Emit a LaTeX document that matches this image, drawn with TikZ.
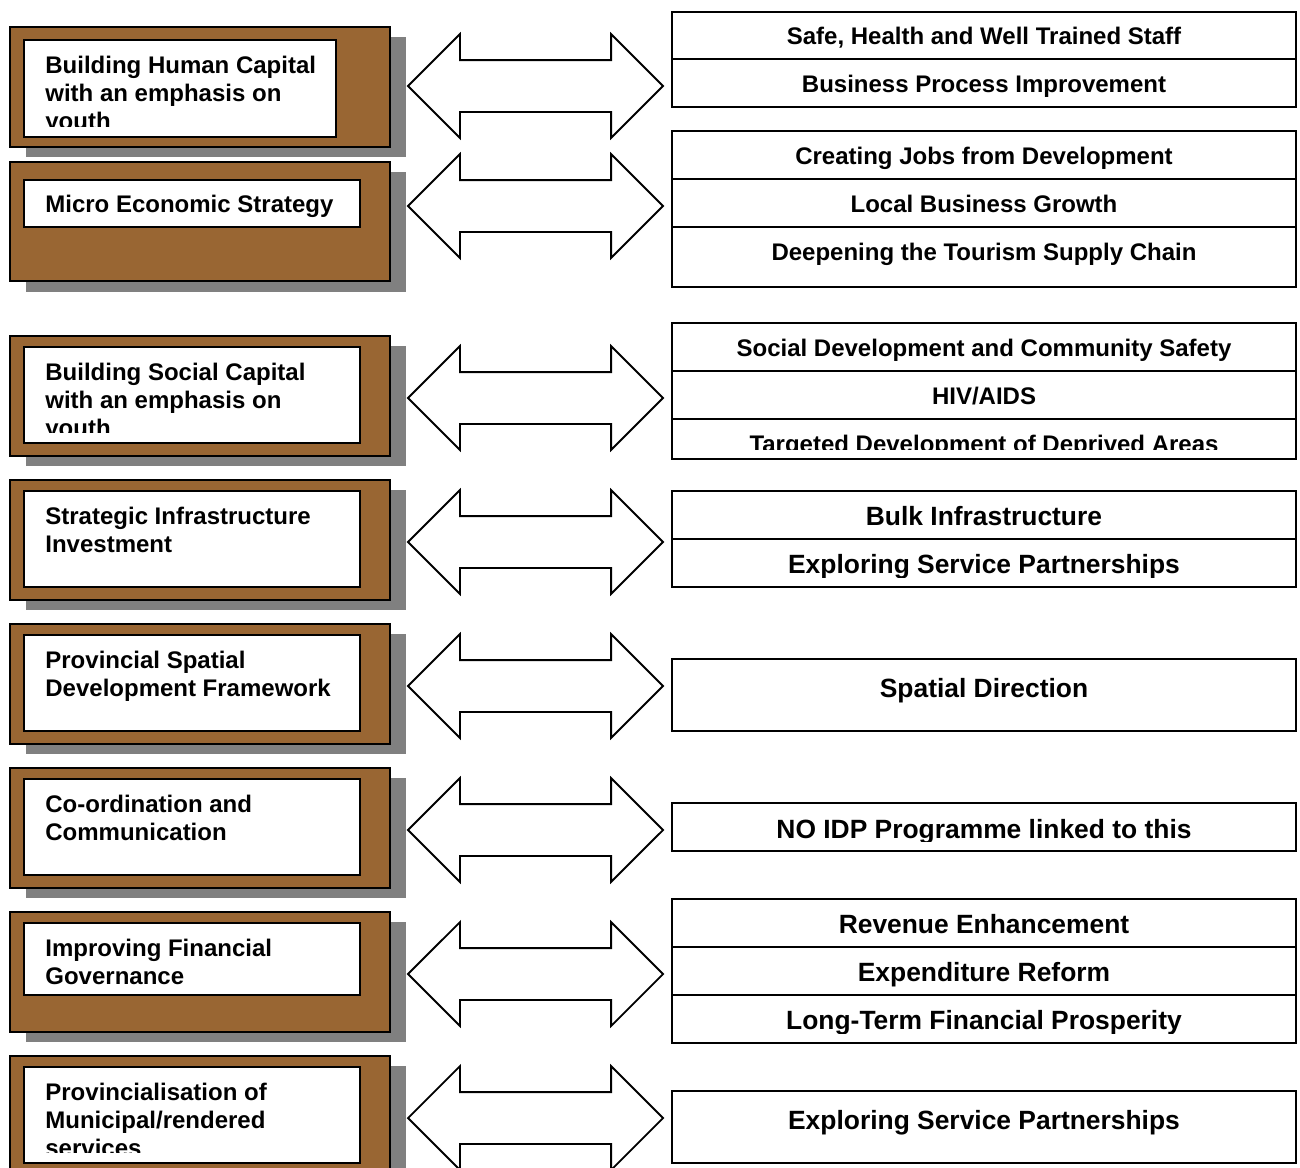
\documentclass[tikz,border=0pt]{standalone}
\usepackage{fontspec}
\setmainfont{Liberation Sans}
\usetikzlibrary{shapes.arrows}
\definecolor{woodbrown}{HTML}{996633}
\definecolor{shadowgray}{HTML}{808080}
\tikzset{
	drop/.style={fill=shadowgray},
	goal frame/.style={draw, fill=woodbrown, line width=0.9pt},
	goal box/.style={draw, fill=white, line width=1pt},
	goal/.style={anchor=base west, inner sep=0pt, align=left, font=\bfseries\fontsize{12}{14}\selectfont},
	prog frame/.style={draw, line width=0.9pt},
	prog/.style={inner sep=0pt, yshift=-1.5pt, text height=8.6pt, text depth=2.5pt, font=\bfseries\fontsize{12}{14}\selectfont},
	big prog/.style={prog, yshift=-0.5pt, text height=9.5pt, text depth=2.8pt, font=\bfseries\fontsize{13.2}{15.8}\selectfont},
	link/.style={double arrow, draw, fill=white, line width=0.9pt, inner xsep=0pt, inner ysep=12.5pt, double arrow head extend=13pt, minimum height=127.5pt}
}

\begin{document}
\begin{tikzpicture}[x=0.5pt,y=-0.5pt]
				\useasboundingbox (0,0) rectangle (1300,1167);
				\clip (0,0) rectangle (1300,1167);

				\fill[drop] (26,37) rectangle (406,157);
				\draw[goal frame] (10,27) rectangle (390,147);
				\draw[goal box] (24,40) rectangle (336,137);
				\begin{scope}
					\clip (24,40) rectangle (336,126);
					\node[goal] (goal1) at (45,129) {Building Human Capital\\with an emphasis on\\youth};
				\end{scope}
				\node[link] (link1) at (535.5,86) {};
				\draw[prog frame] (672,12) rectangle (1296,107);
				\draw[prog frame] (672,59) -- (1296,59);
				\node[prog] (prog1a) at (984,35.5) {Safe, Health and Well Trained Staff};
				\node[prog] (prog1b) at (984,83) {Business Process Improvement};

				\fill[drop] (26,172) rectangle (406,292);
				\draw[goal frame] (10,162) rectangle (390,281);
				\draw[goal box] (24,180) rectangle (360,227);
				\node[goal] (goal2) at (45,212) {Micro Economic Strategy};
				\node[link] (link2) at (535.5,206) {};
				\draw[prog frame] (672,131) rectangle (1296,287);
				\draw[prog frame] (672,179) -- (1296,179);
				\draw[prog frame] (672,227) -- (1296,227);
				\node[prog] (prog2a) at (984,155) {Creating Jobs from Development};
				\node[prog] (prog2b) at (984,203) {Local Business Growth};
				\node[prog] (prog2c) at (984,251) {Deepening the Tourism Supply Chain};

				\fill[drop] (26,346) rectangle (406,466);
				\draw[goal frame] (10,336) rectangle (390,456);
				\draw[goal box] (24,347) rectangle (360,443);
				\begin{scope}
					\clip (24,347) rectangle (360,432);
					\node[goal] (goal3) at (45,436) {Building Social Capital\\with an emphasis on\\youth};
				\end{scope}
				\node[link] (link3) at (535.5,398) {};
				\draw[prog frame] (672,323) rectangle (1296,459);
				\draw[prog frame] (672,371) -- (1296,371);
				\draw[prog frame] (672,419) -- (1296,419);
				\node[prog] (prog3a) at (984,347) {Social Development and Community Safety};
				\node[prog] (prog3b) at (984,395) {HIV/AIDS};
				\begin{scope}
					\clip (672,419) rectangle (1296,449);
					\node[prog] (prog3c) at (984,443) {Targeted Development of Deprived Areas};
				\end{scope}

				\fill[drop] (26,490) rectangle (406,610);
				\draw[goal frame] (10,480) rectangle (390,600);
				\draw[goal box] (24,491) rectangle (360,587);
				\node[goal] (goal4) at (45,552) {Strategic Infrastructure\\Investment};
				\node[link] (link4) at (535.5,542) {};
				\draw[prog frame] (672,491) rectangle (1296,587);
				\draw[prog frame] (672,539) -- (1296,539);
				\node[big prog] (prog4a) at (984,515) {Bulk Infrastructure};
				\begin{scope}
					\clip (672,539) rectangle (1296,577);
					\node[big prog] (prog4b) at (984,563) {Exploring Service Partnerships};
				\end{scope}

				\fill[drop] (26,634) rectangle (406,754);
				\draw[goal frame] (10,624) rectangle (390,744);
				\draw[goal box] (24,635) rectangle (360,731);
				\node[goal] (goal5) at (45,696) {Provincial Spatial\\Development Framework};
				\node[link] (link5) at (535.5,686) {};
				\draw[prog frame] (672,659) rectangle (1296,731);
				\node[big prog] (prog5) at (984,687) {Spatial Direction};

				\fill[drop] (26,778) rectangle (406,898);
				\draw[goal frame] (10,768) rectangle (390,888);
				\draw[goal box] (24,779) rectangle (360,875);
				\node[goal] (goal6) at (45,840) {Co-ordination and\\Communication};
				\node[link] (link6) at (535.5,830) {};
				\draw[prog frame] (672,803) rectangle (1296,851);
				\begin{scope}
					\clip (672,803) rectangle (1296,841);
					\node[big prog] (prog6) at (984,828) {NO IDP Programme linked to this};
				\end{scope}

				\fill[drop] (26,922) rectangle (406,1042);
				\draw[goal frame] (10,912) rectangle (390,1032);
				\draw[goal box] (24,923) rectangle (360,995);
				\node[goal] (goal7) at (45,984) {Improving Financial\\Governance};
				\node[link] (link7) at (535.5,974) {};
				\draw[prog frame] (672,899) rectangle (1296,1043);
				\draw[prog frame] (672,947) -- (1296,947);
				\draw[prog frame] (672,995) -- (1296,995);
				\node[big prog] (prog7a) at (984,923) {Revenue Enhancement};
				\node[big prog] (prog7b) at (984,971) {Expenditure Reform};
				\begin{scope}
					\clip (672,995) rectangle (1296,1033);
					\node[big prog] (prog7c) at (984,1019) {Long-Term Financial Prosperity};
				\end{scope}

				\fill[drop] (26,1066) rectangle (406,1186);
				\draw[goal frame] (10,1056) rectangle (390,1176);
				\draw[goal box] (24,1067) rectangle (360,1163);
				\begin{scope}
					\clip (24,1067) rectangle (360,1152);
					\node[goal] (goal8) at (45,1156) {Provincialisation of\\Municipal/rendered\\services};
				\end{scope}
				\node[link] (link8) at (535.5,1118) {};
				\draw[prog frame] (672,1091) rectangle (1296,1163);
				\node[big prog] (prog8) at (984,1119) {Exploring Service Partnerships};
			\end{tikzpicture}
\end{document}
